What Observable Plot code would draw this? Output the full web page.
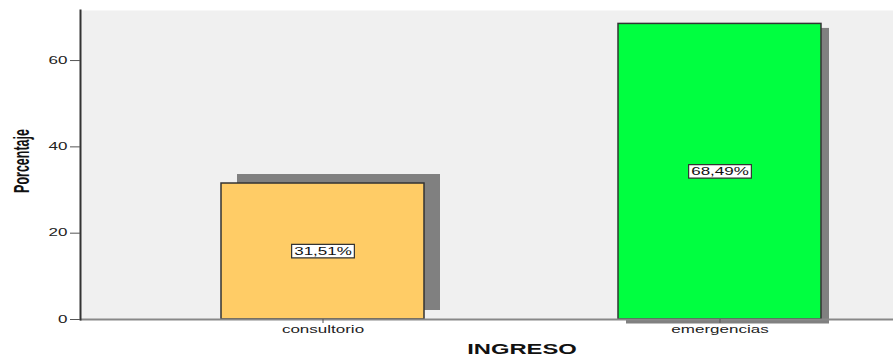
<!DOCTYPE html>
<html><head><meta charset="utf-8">
<script src="https://cdn.jsdelivr.net/npm/d3@7"></script>
<script src="https://cdn.jsdelivr.net/npm/@observablehq/plot@0.6"></script>
<style>body{margin:0;background:#fff} svg{display:block}</style>
</head><body><div id="chart"></div>
<script>
const categories = ["consultorio", "emergencias"];
const percentages = [31.51, 68.49];
const valueLabels = ["31,51%", "68,49%"];
const barColors = ["#FFCC66", "#00FF40"];
const yTicks = [0, 20, 40, 60];
const xTitle = "INGRESO";
const yTitle = "Porcentaje";

const data = categories.map((c, i) => ({cat: c, pct: percentages[i], label: valueLabels[i], color: barColors[i]}));

const chart = Plot.plot({
  width: 893, height: 358,
  marginLeft: 80, marginRight: 0, marginTop: 10, marginBottom: 39,
  style: {fontFamily: "'Liberation Sans', Arial, sans-serif", fontSize: "10px", background: "#fff", color: "#222"},
  x: {domain: categories, range: [221, 821], paddingInner: 0.489, paddingOuter: 0, axis: null, label: null},
  y: {domain: [0, 71.6], axis: null, label: null},
  color: {type: "identity"},
  marks: [
    Plot.frame({fill: "#F0F0F0", stroke: null}),
    Plot.barY(data.slice(0, 1), {x: "cat", y: "pct", fill: "#808080", dx: 16, dy: -9}),
    Plot.barY(data.slice(1), {x: "cat", y: "pct", fill: "#808080", dx: 8, dy: 4.5}),
    Plot.barY(data, {x: "cat", y: "pct", fill: "color", stroke: "#333", strokeWidth: 1.5}),
    Plot.ruleY([0], {stroke: "#888", strokeWidth: 2}),
    Plot.frame({anchor: "left", stroke: "#333", strokeWidth: 2}),
    Plot.axisY({ticks: yTicks, tickSize: 10, tickPadding: 3, label: null, stroke: "#555", fill: "#222"}),
    Plot.axisX({tickSize: 4, tickPadding: 2, label: null, stroke: "#555", fill: "#222"}),
    Plot.text(data, {x: "cat", y: d => d.pct / 2, text: "label", fill: "#111"}),
    Plot.text([xTitle], {frameAnchor: "bottom", text: d => d, dy: 30, dx: 35, lineAnchor: "middle", textAnchor: "middle", fontWeight: "bold", fontSize: 14, fill: "#111"}),
    Plot.text([yTitle], {frameAnchor: "left", text: d => d, dx: -58, dy: -4, rotate: -90, textAnchor: "middle", lineAnchor: "middle", fontWeight: "bold", fontSize: 12.5, fill: "#111"})
  ]
});
document.getElementById("chart").append(chart);

const SX = 1.7;
const texts = Array.from(chart.querySelectorAll("text"));
const stretchX = new Set([...categories, ...yTicks.map(String), ...valueLabels, xTitle]);
texts.forEach(t => {
  const s = t.textContent;
  const tr = t.getAttribute("transform") || "";
  if (s === yTitle) t.setAttribute("transform", tr + ` scale(1,${SX})`);
  else if (stretchX.has(s)) t.setAttribute("transform", tr + ` scale(${SX},1)`);
});

texts.filter(t => valueLabels.includes(t.textContent)).forEach(t => {
  const b = t.getBBox();
  const r = document.createElementNS("http://www.w3.org/2000/svg", "rect");
  r.setAttribute("x", b.x - 1.5);
  r.setAttribute("y", b.y - 1);
  r.setAttribute("width", b.width + 3);
  r.setAttribute("height", b.height + 2);
  r.setAttribute("fill", "#fff");
  r.setAttribute("stroke", "#333");
  r.setAttribute("stroke-width", 1.2);
  r.setAttribute("vector-effect", "non-scaling-stroke");
  r.setAttribute("transform", t.getAttribute("transform"));
  t.parentNode.insertBefore(r, t);
});
</script>
</body></html>
